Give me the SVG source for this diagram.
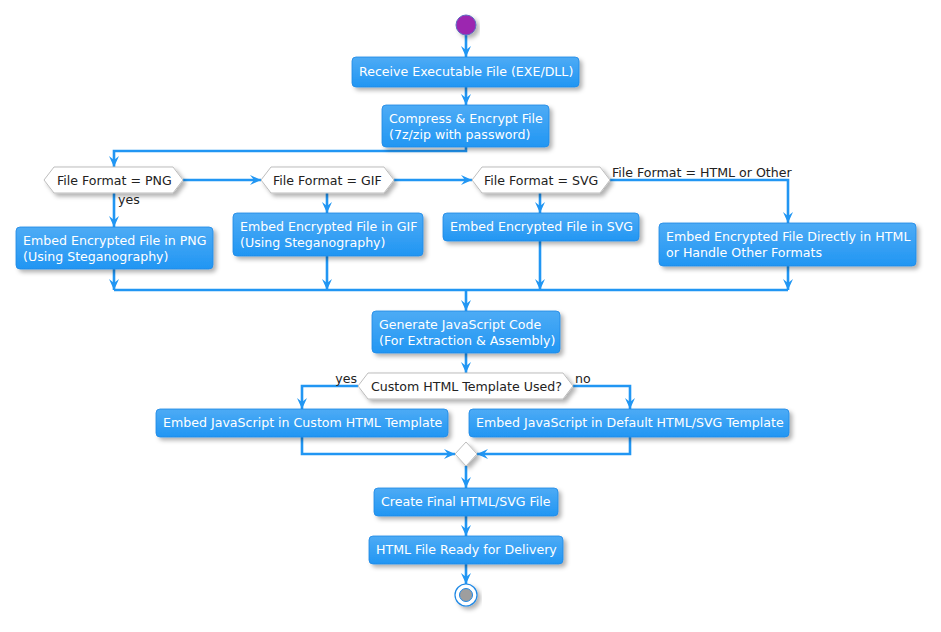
<svg xmlns="http://www.w3.org/2000/svg" width="941" height="632" viewBox="0 0 941 632">
<defs>
<linearGradient id="g" x1="0" y1="0" x2="0" y2="1">
<stop offset="0" stop-color="#4DABF5"/>
<stop offset="1" stop-color="#2196F3"/>
</linearGradient>
<filter id="sh" x="-10%" y="-30%" width="130%" height="180%">
<feDropShadow dx="3" dy="3" stdDeviation="2" flood-color="#000" flood-opacity="0.3"/>
</filter>
<marker id="ah" viewBox="0 0 12 10" refX="11" refY="5" markerWidth="12" markerHeight="10" markerUnits="userSpaceOnUse" orient="auto">
<path d="M0,0 L11,5 L0,10 L4,5 Z" fill="#2196F3"/>
</marker>
</defs>
<style>
.box{fill:url(#g);stroke:#1E88E5;stroke-width:0.8;filter:url(#sh)}
.dec{fill:#fff;stroke:#bdbdbd;stroke-width:1;filter:url(#sh)}
.bt{font-family:"DejaVu Sans",sans-serif;font-size:12.6px;fill:#fff}
.dt{font-family:"DejaVu Sans",sans-serif;font-size:12.6px;fill:#222}
.lb{font-family:"DejaVu Sans",sans-serif;font-size:12.6px;fill:#222}
.c{fill:none;stroke:#2196F3;stroke-width:2.6}
.a{fill:none;stroke:#2196F3;stroke-width:2.6;marker-end:url(#ah)}
</style>

<g id="connectors">
<path class="a" d="M466,35 V57"/>
<path class="a" d="M466,87 V105"/>
<path class="a" d="M466,147 V151 H114 V167"/>
<path class="a" d="M183,180 H261"/>
<path class="a" d="M394,180 H472"/>
<path class="a" d="M610,180 H788 V223"/>
<path class="a" d="M114,193 V227"/>
<path class="a" d="M327,193 V213"/>
<path class="a" d="M540,193 V213"/>
<path class="a" d="M114,269 V290"/>
<path class="a" d="M327,256 V290"/>
<path class="a" d="M540,241 V290"/>
<path class="a" d="M788,266 V290"/>
<path class="c" d="M114,290 H788"/>
<path class="a" d="M466,290 V311"/>
<path class="a" d="M466,353 V373"/>
<path class="a" d="M358,386 H302 V409"/>
<path class="a" d="M573,386 H630 V409"/>
<path class="a" d="M302,437 V454 H455"/>
<path class="a" d="M630,437 V454 H477"/>
<path class="a" d="M466,466 V488"/>
<path class="a" d="M466,516 V536"/>
<path class="a" d="M466,564 V584"/>
<text class="lb" x="118" y="204">yes</text>
<text class="lb" x="612" y="177">File Format = HTML or Other</text>
<text class="lb" x="357" y="383" text-anchor="end">yes</text>
<text class="lb" x="575" y="383">no</text>
</g>

<g id="start"><circle cx="466" cy="25" r="10" fill="#9C27B0" stroke="#5E6BC0" stroke-width="1" filter="url(#sh)"/></g>

<g id="receive"><rect class="box" x="352" y="57" width="227" height="30" rx="4"/><text class="bt" x="359" y="76">Receive Executable File (EXE/DLL)</text></g>

<g id="compress"><rect class="box" x="382" y="105" width="167" height="42" rx="4"/><text class="bt" x="389" y="123">Compress &amp; Encrypt File</text><text class="bt" x="389" y="139">(7z/zip with password)</text></g>

<g id="decPNG"><polygon class="dec" points="44,180 54,167 173,167 183,180 173,193 54,193"/><text class="dt" x="57" y="185">File Format = PNG</text></g>
<g id="decGIF"><polygon class="dec" points="261,180 271,167 384,167 394,180 384,193 271,193"/><text class="dt" x="273" y="185">File Format = GIF</text></g>
<g id="decSVG"><polygon class="dec" points="472,180 482,167 600,167 610,180 600,193 482,193"/><text class="dt" x="484" y="185">File Format = SVG</text></g>

<g id="embedPNG"><rect class="box" x="16" y="227" width="197" height="42" rx="4"/><text class="bt" x="23" y="245">Embed Encrypted File in PNG</text><text class="bt" x="23" y="261">(Using Steganography)</text></g>
<g id="embedGIF"><rect class="box" x="233" y="213" width="190" height="43" rx="4"/><text class="bt" x="240" y="231">Embed Encrypted File in GIF</text><text class="bt" x="240" y="247">(Using Steganography)</text></g>
<g id="embedSVG"><rect class="box" x="443" y="213" width="196" height="28" rx="4"/><text class="bt" x="450" y="231">Embed Encrypted File in SVG</text></g>
<g id="embedHTML"><rect class="box" x="659" y="223" width="257" height="43" rx="4"/><text class="bt" x="666" y="241">Embed Encrypted File Directly in HTML</text><text class="bt" x="666" y="257">or Handle Other Formats</text></g>

<g id="genJS"><rect class="box" x="372" y="311" width="188" height="42" rx="4"/><text class="bt" x="379" y="329">Generate JavaScript Code</text><text class="bt" x="379" y="345">(For Extraction &amp; Assembly)</text></g>

<g id="decTemplate"><polygon class="dec" points="358,386 368,373 563,373 573,386 563,399 368,399"/><text class="dt" x="371" y="391">Custom HTML Template Used?</text></g>

<g id="customTpl"><rect class="box" x="156" y="409" width="292" height="28" rx="4"/><text class="bt" x="163" y="427">Embed JavaScript in Custom HTML Template</text></g>
<g id="defaultTpl"><rect class="box" x="469" y="409" width="320" height="28" rx="4"/><text class="bt" x="476" y="427">Embed JavaScript in Default HTML/SVG Template</text></g>

<g id="merge"><polygon class="dec" points="466,442 477,454 466,466 455,454"/></g>

<g id="create"><rect class="box" x="374" y="488" width="184" height="28" rx="4"/><text class="bt" x="381" y="506">Create Final HTML/SVG File</text></g>
<g id="ready"><rect class="box" x="369" y="536" width="194" height="28" rx="4"/><text class="bt" x="376" y="554">HTML File Ready for Delivery</text></g>

<g id="end"><circle cx="466" cy="595" r="11" fill="#fff" stroke="#1E88E5" stroke-width="1.2" filter="url(#sh)"/><circle cx="466" cy="595" r="6.5" fill="#9E9E9E" stroke="#1E88E5" stroke-width="1"/></g>
</svg>
